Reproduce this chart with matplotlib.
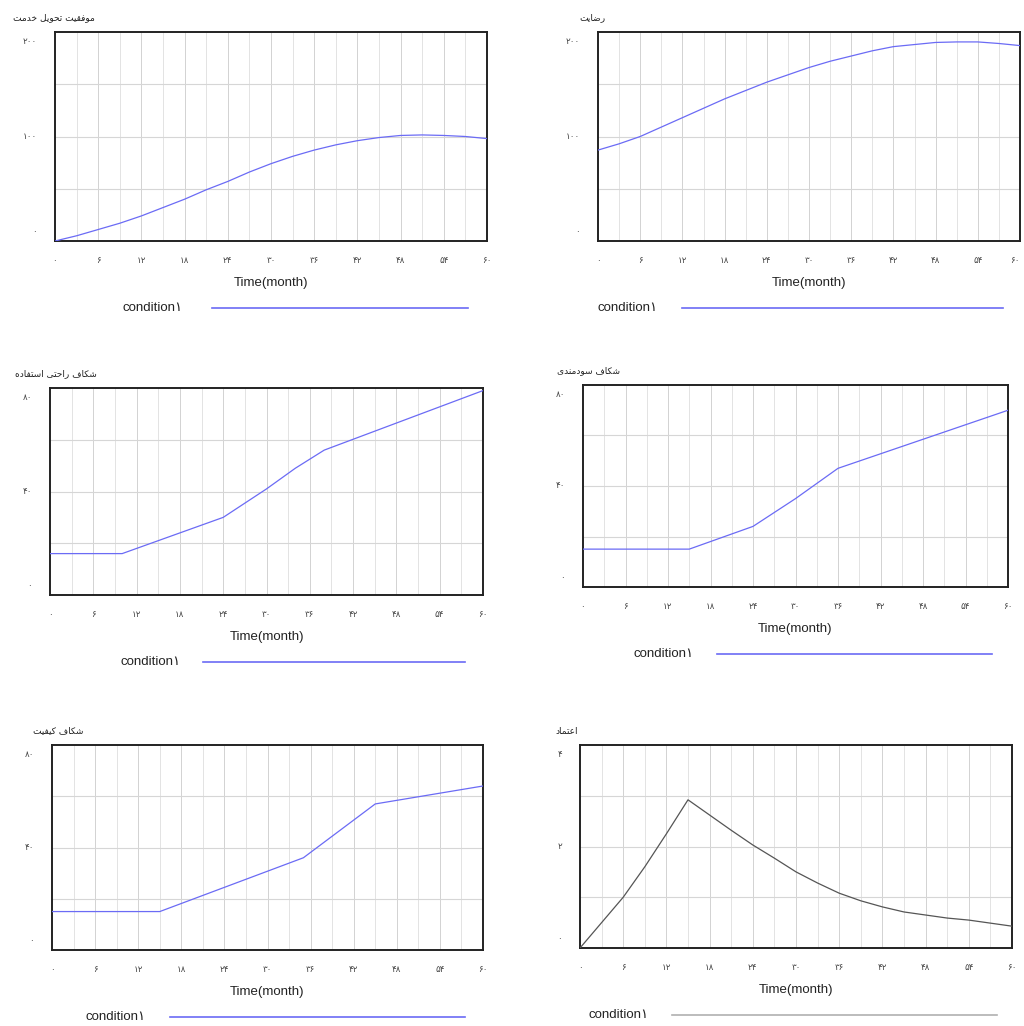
import numpy as np
import matplotlib
matplotlib.use('Agg')
import matplotlib.pyplot as plt

# ---- data ----
t3 = [0, 3, 6, 9, 12, 15, 18, 21, 24, 27, 30, 33, 36, 39, 42, 45, 48, 51, 54, 57, 60]

delivery_t = t3
delivery = [0, 5, 11, 17, 24, 32, 40, 49, 57, 66, 74, 81, 87, 92, 96, 99, 101, 101.5, 101, 100, 98]

satisf_t = t3
satisf = [87, 93, 100, 109, 118, 127, 136, 144, 152, 159, 166, 172, 177, 182, 186, 188, 190, 190.5, 190.5, 189, 187]

ease_t = [0, 10, 24, 30, 34, 38, 60]
ease = [16, 16, 30, 41, 49, 56, 79]

useful_t = [0, 15, 24, 30, 36, 60]
useful = [15, 15, 24, 35, 47, 70]

quality_t = [0, 15, 35, 45, 60]
quality = [15, 15, 36, 57, 64]

trust_t = t3
trust = [0, 0.5, 1.0, 1.6, 2.25, 2.92, 2.62, 2.32, 2.03, 1.77, 1.5, 1.28, 1.08, 0.93,
         0.81, 0.71, 0.65, 0.59, 0.55, 0.49, 0.43]

xticks = [0, 6, 12, 18, 24, 30, 36, 42, 48, 54, 60]
titles = ['موفقیت تحویل خدمت', 'رضایت', 'شکاف راحتی استفاده',
          'شکاف سودمندی', 'شکاف کیفیت', 'اعتماد']
ymax = [200, 200, 80, 80, 80, 4]
xlabel = 'Time(month)'
legend_label = 'condition۱'

# ---- minimal Persian shaping (matplotlib has no complex text layout) ----
FORMS = {
    'ا': ('\uFE8D', '\uFE8E', None, None),
    'ب': ('\uFE8F', '\uFE90', '\uFE91', '\uFE92'),
    'ت': ('\uFE95', '\uFE96', '\uFE97', '\uFE98'),
    'ح': ('\uFEA1', '\uFEA2', '\uFEA3', '\uFEA4'),
    'خ': ('\uFEA5', '\uFEA6', '\uFEA7', '\uFEA8'),
    'د': ('\uFEA9', '\uFEAA', None, None),
    'ر': ('\uFEAD', '\uFEAE', None, None),
    'س': ('\uFEB1', '\uFEB2', '\uFEB3', '\uFEB4'),
    'ش': ('\uFEB5', '\uFEB6', '\uFEB7', '\uFEB8'),
    'ض': ('\uFEBD', '\uFEBE', '\uFEBF', '\uFEC0'),
    'ع': ('\uFEC9', '\uFECA', '\uFECB', '\uFECC'),
    'ف': ('\uFED1', '\uFED2', '\uFED3', '\uFED4'),
    'ق': ('\uFED5', '\uFED6', '\uFED7', '\uFED8'),
    'ل': ('\uFEDD', '\uFEDE', '\uFEDF', '\uFEE0'),
    'م': ('\uFEE1', '\uFEE2', '\uFEE3', '\uFEE4'),
    'ن': ('\uFEE5', '\uFEE6', '\uFEE7', '\uFEE8'),
    'ه': ('\uFEE9', '\uFEEA', '\uFEEB', '\uFEEC'),
    'و': ('\uFEED', '\uFEEE', None, None),
    'ی': ('\uFBFC', '\uFBFD', '\uFBFE', '\uFBFF'),
    'ک': ('\uFB8E', '\uFB8F', '\uFB90', '\uFB91'),
}


def shape(text):
    out = []
    for i, ch in enumerate(text):
        if ch not in FORMS:
            out.append(ch)
            continue
        prev = text[i - 1] if i > 0 else ''
        nxt = text[i + 1] if i + 1 < len(text) else ''
        jp = prev in FORMS and FORMS[prev][2] is not None
        jn = nxt in FORMS and FORMS[ch][2] is not None
        iso, fin, ini, med = FORMS[ch]
        if jp and jn:
            out.append(med)
        elif jp:
            out.append(fin)
        elif jn:
            out.append(ini)
        else:
            out.append(iso)
    return ''.join(reversed(out))


def fa(n):
    return str(n).translate(str.maketrans('0123456789', '۰۱۲۳۴۵۶۷۸۹'))


W, H = 1024, 1026
fig = plt.figure(figsize=(W / 100, H / 100), dpi=100)

# axes boxes in pixels: left, right, top, bottom
boxes = [(55, 487, 32, 241), (598, 1020, 32, 241),
         (50, 483, 388, 595), (583, 1008, 385, 587),
         (52, 483, 745, 950), (580, 1012, 745, 948)]
title_right = [95, 605, 97, 620, 83, 578]
legend_txt = [0.157, 0.0, 0.162, 0.118, 0.077, 0.019]
legend_line = [(0.363, 0.956), (0.2, 0.96), (0.353, 0.958), (0.315, 0.962),
               (0.274, 0.958), (0.213, 0.965)]
series = [(delivery_t, delivery), (satisf_t, satisf), (ease_t, ease),
          (useful_t, useful), (quality_t, quality), (trust_t, trust)]
latin = ['Liberation Sans', 'DejaVu Sans']

for k, (l, r, tp, b) in enumerate(boxes):
    ax = fig.add_axes([l / W, 1 - b / H, (r - l) / W, (b - tp) / H])
    tt, vv = series[k]
    col = '#6b6bf5' if k < 5 else '#555555'
    lcol = '#6b6bf5' if k < 5 else '#b0b0b0'
    ax.plot(tt, vv, color=col, lw=0.9, zorder=3)
    ax.set_xlim(0, 60)
    ax.set_ylim(0, ymax[k])
    for m in range(3, 60, 3):
        ax.axvline(m, color='#d2d2d2' if m % 6 == 0 else '#e3e3e3', lw=0.7, zorder=1)
    for q in (0.25, 0.5, 0.75):
        ax.axhline(q * ymax[k], color='#d6d6d6', lw=0.8, zorder=1)
    for s in ax.spines.values():
        s.set_linewidth(1.4)
        s.set_color('#222222')
    ax.set_xticks(xticks)
    labs = ax.set_xticklabels([fa(x) for x in xticks], fontsize=6.3,
                              family='DejaVu Sans', color='#444444')
    if r > 1015:
        labs[-1].set_horizontalalignment('right')
    ax.tick_params(axis='x', length=0, pad=11)
    ax.set_yticks([])
    yv = [0, ymax[k] // 2, ymax[k]]
    dys = [7, 0, -7]
    for v, dy in zip(yv, dys):
        ax.annotate(fa(v), xy=(0, v), xycoords=('axes fraction', 'data'),
                    xytext=(-13, dy), textcoords='offset points', ha='right',
                    va='center', fontsize=6.3, family='DejaVu Sans', color='#444444')
    ax.annotate(xlabel, xy=(0.5, 0), xycoords='axes fraction', xytext=(0, -30),
                textcoords='offset points', ha='center', va='center',
                fontsize=9.5, family=latin, color='#222222')
    # legend row
    ly = 1 - (b + 67) / H
    fig.text((l + legend_txt[k] * (r - l)) / W, ly, legend_label, ha='left',
             va='center', fontsize=9.5, family=latin, color='#222222')
    x0, x1 = legend_line[k]
    fig.add_artist(plt.Line2D([(l + x0 * (r - l)) / W, (l + x1 * (r - l)) / W],
                              [ly, ly], color=lcol, lw=1.2))
    # title
    fig.text(title_right[k] / W, 1 - (tp - 14) / H, shape(titles[k]), ha='right',
             va='center', fontsize=6.5, family='DejaVu Sans', color='#222222')

fig.savefig('out.png', dpi=100)
